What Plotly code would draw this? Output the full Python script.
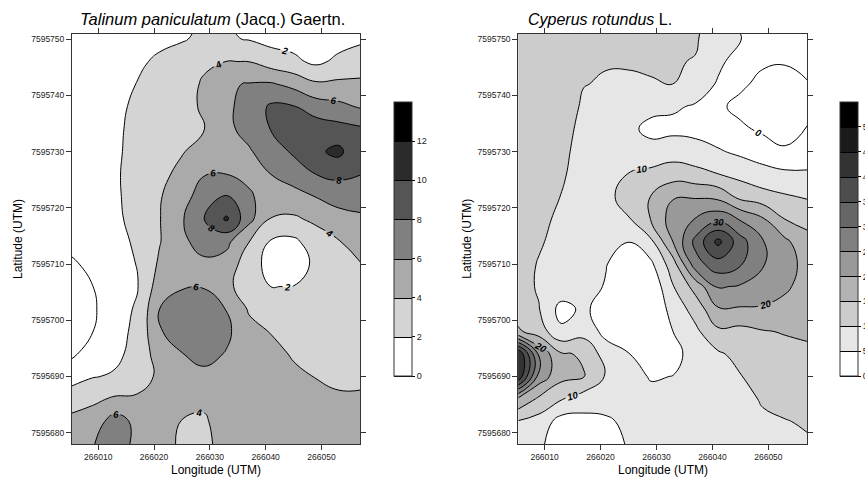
import plotly.graph_objects as go

W, H = 865, 479
FONT = "Arial, 'Liberation Sans', sans-serif"

# ---- grid of sampling nodes (UTM) ----
x_nodes = [266005, 266009, 266013, 266017, 266021, 266025, 266029,
           266033, 266037, 266041, 266045, 266049, 266053, 266057]
y_nodes = [7595754, 7595750, 7595746, 7595742, 7595738, 7595734, 7595730,
           7595726, 7595722, 7595718, 7595714, 7595710, 7595706, 7595702,
           7595698, 7595694, 7595690, 7595686, 7595682, 7595678]

# Talinum paniculatum density, rows follow y_nodes (north -> south)
talinum_z = [
    [0.5, 0.6, 0.8, 1.0, 1.3, 1.6, 2.0, 1.9, 1.5, 1.2, 1.0, 0.6, 0.9, 1.3],
    [0.6, 0.8, 1.0, 1.3, 1.6, 1.9, 2.25, 2.2, 1.9, 1.4, 1.3, 1.0, 1.3, 1.7],
    [0.7, 0.9, 1.2, 1.7, 2.3, 2.6, 3.6, 4.02, 3.98, 3.0, 2.4, 1.6, 2.4, 2.9],
    [0.75, 1.0, 1.4, 2.05, 2.8, 3.0, 4.3, 5.8, 6.1, 6.2, 5.4, 4.3, 4.4, 4.4],
    [0.75, 1.0, 1.5, 2.4, 3.1, 3.3, 4.3, 5.6, 6.8, 8.3, 8.1, 7.0, 6.5, 5.8],
    [0.7, 1.0, 1.6, 2.6, 3.2, 3.6, 3.95, 5.6, 6.6, 8.1, 8.8, 9.1, 8.7, 8.3],
    [0.65, 0.95, 1.7, 2.6, 3.3, 3.9, 4.6, 5.6, 5.8, 7.0, 8.3, 9.6, 10.5, 8.4],
    [0.6, 0.9, 1.8, 2.6, 3.6, 4.4, 5.9, 5.98, 5.5, 6.02, 6.9, 8.02, 8.5, 8.04],
    [0.5, 0.85, 1.8, 2.5, 3.85, 5.2, 7.0, 8.1, 6.3, 5.0, 5.3, 6.05, 6.7, 7.0],
    [0.45, 0.8, 1.75, 2.4, 3.92, 5.8, 8.0, 10.3, 6.6, 3.9, 3.7, 4.4, 5.3, 5.6],
    [0.33, 0.6, 1.6, 2.2, 3.9, 5.6, 6.8, 6.5, 4.05, 1.8, 1.6, 3.0, 3.9, 4.6],
    [-0.2, 0.3, 1.4, 2.05, 4.3, 5.5, 5.6, 5.2, 2.9, 1.3, 1.0, 2.4, 3.1, 3.95],
    [-0.45, -0.02, 1.3, 1.9, 5.0, 5.9, 5.9, 4.6, 2.7, 1.98, 2.03, 2.5, 2.9, 3.5],
    [-0.6, -0.3, 1.3, 2.2, 6.0, 6.6, 6.9, 5.94, 3.8, 3.0, 2.7, 2.8, 2.9, 3.2],
    [-0.55, -0.03, 1.4, 2.4, 5.9, 6.6, 7.0, 6.4, 4.6, 3.9, 3.2, 3.1, 3.0, 3.2],
    [-0.33, 0.7, 1.6, 2.6, 5.0, 5.95, 6.6, 5.87, 5.0, 4.6, 3.8, 3.5, 3.3, 3.3],
    [1.0, 1.9, 2.2, 3.0, 4.4, 5.0, 5.5, 5.0, 5.1, 5.0, 4.4, 3.95, 3.7, 3.7],
    [3.22, 3.6, 4.26, 4.3, 4.6, 4.4, 4.25, 4.7, 5.0, 5.0, 4.7, 4.4, 4.2, 4.2],
    [4.42, 5.0, 6.84, 5.5, 5.0, 3.95, 3.85, 4.6, 4.9, 5.0, 4.8, 4.6, 4.5, 4.4],
    [5.0, 5.9, 7.0, 5.5, 5.0, 3.6, 3.7, 4.5, 4.8, 5.0, 4.8, 4.6, 4.6, 4.5],
]

# Cyperus rotundus density, rows follow y_nodes (north -> south)
cyperus_z = [
    [13.5, 12.5, 12.0, 11.2, 10.8, 10.8, 10.6, 10.6, 10.6, 8.5, 4.5, 2.5, 3.5, 3.5],
    [13.5, 12.5, 12.0, 11.0, 10.5, 10.6, 10.5, 10.5, 10.4, 7.5, 5.2, 2.0, 2.5, 2.8],
    [13.5, 12.5, 12.0, 10.8, 10.2, 10.3, 10.4, 10.3, 9.8, 6.0, 3.0, 0.8, 0.5, 1.5],
    [13.5, 12.5, 12.0, 10.1, 9.7, 9.5, 9.8, 10.05, 7.8, 4.5, 1.0, -1.5, -2.5, -0.3],
    [13.5, 12.5, 11.8, 9.5, 9.0, 7.5, 6.5, 5.6, 4.5, 1.0, -1.5, -2.5, -3.0, -1.5],
    [13.5, 12.5, 11.3, 9.0, 8.5, 6.3, 3.5, 3.8, 3.5, 2.5, 1.0, -1.0, -2.0, 0.3],
    [13.5, 12.2, 10.9, 8.6, 8.3, 7.5, 7.0, 7.8, 7.0, 5.5, 4.0, 3.0, 0.7, 2.8],
    [13.5, 12.0, 10.5, 8.3, 8.5, 10.1, 11.2, 12.5, 11.5, 10.05, 8.5, 6.5, 6.0, 5.5],
    [13.5, 11.5, 9.9, 8.0, 9.0, 11.5, 15.1, 19.6, 19.5, 18.5, 13.5, 12.0, 10.5, 9.5],
    [13.0, 11.0, 9.2, 7.7, 8.0, 9.7, 15.2, 22.5, 25.2, 28.5, 24.5, 20.5, 14.9, 13.5],
    [12.5, 10.5, 8.5, 7.5, 6.5, 5.1, 9.0, 20.3, 31.5, 41.5, 32.0, 25.3, 21.0, 16.5],
    [12.0, 9.7, 8.0, 7.3, 5.2, 2.0, 4.0, 13.0, 28.0, 33.0, 30.5, 25.3, 23.0, 17.5],
    [12.0, 9.5, 8.5, 7.0, 4.6, 0.8, 1.0, 9.8, 17.0, 25.5, 24.5, 22.5, 21.0, 17.5],
    [13.0, 10.2, 3.2, 6.0, 2.5, 0.8, 0.5, 7.0, 12.0, 19.5, 19.5, 19.5, 18.0, 17.0],
    [16.0, 12.5, 6.0, 8.0, 3.5, 2.0, 0.6, 5.05, 9.0, 14.0, 13.5, 14.7, 15.3, 15.8],
    [46.5, 24.0, 15.5, 14.5, 7.5, 5.2, 1.5, 3.5, 7.0, 9.3, 11.5, 13.0, 13.5, 14.0],
    [45.5, 23.0, 16.5, 15.2, 9.5, 7.0, 4.6, 5.1, 6.5, 7.5, 9.8, 11.8, 12.5, 12.8],
    [20.0, 14.0, 10.3, 7.5, 7.0, 6.8, 6.5, 6.6, 6.5, 7.0, 8.0, 10.6, 11.5, 11.8],
    [9.8, 8.0, 3.0, 3.5, 4.3, 6.0, 6.5, 7.0, 6.5, 7.0, 7.5, 9.0, 9.8, 10.5],
    [8.0, 6.0, 2.0, 2.0, 2.5, 5.5, 6.5, 7.0, 6.5, 7.0, 7.5, 8.5, 9.0, 9.5],
]

x_ticks = [266010, 266020, 266030, 266040, 266050]
y_ticks = [7595680, 7595690, 7595700, 7595710, 7595720, 7595730, 7595740, 7595750]
talinum_cbar_ticks = [0, 2, 4, 6, 8, 10, 12]
cyperus_cbar_ticks = [0, 5, 10, 15, 20, 25, 30, 35, 40, 45, 50]

talinum_greys = ['#ffffff', '#d4d4d4', '#aaaaaa', '#808080', '#555555', '#2b2b2b', '#000000']
cyperus_greys = ['#ffffff', '#e6e6e6', '#cccccc', '#b3b3b3', '#999999', '#808080',
                 '#666666', '#4d4d4d', '#333333', '#1a1a1a', '#000000']

# plotly wants ascending coordinates
ys = y_nodes[::-1]
tz = talinum_z[::-1]
cz = cyperus_z[::-1]

SMOOTH = 1.3


def stepped(colors):
    n = len(colors)
    cs = []
    for i, c in enumerate(colors):
        cs.append([i / n, c])
        cs.append([(i + 1) / n, c])
    return cs


def panel(z, xa, ya, zmax, size, greys, label_step, cbar_x, cbar_ticks, first_line):
    traces = []
    cs = stepped(greys)
    # filled bands (no lines)
    traces.append(go.Contour(
        x=x_nodes, y=ys, z=z, xaxis=xa, yaxis=ya,
        zmin=0, zmax=zmax, autocontour=False, colorscale=cs,
        contours=dict(start=0, end=zmax, size=size, coloring='fill', showlines=False),
        line=dict(smoothing=SMOOTH, width=0), showscale=False, hoverinfo='skip'))
    # unlabeled lines
    traces.append(go.Contour(
        x=x_nodes, y=ys, z=z, xaxis=xa, yaxis=ya, autocontour=False,
        contours=dict(start=first_line[0], end=first_line[1], size=first_line[2],
                      coloring='none', showlabels=False),
        line=dict(color='black', width=1, smoothing=SMOOTH), showscale=False, hoverinfo='skip'))
    # labeled lines
    traces.append(go.Contour(
        x=x_nodes, y=ys, z=z, xaxis=xa, yaxis=ya, autocontour=False,
        contours=dict(start=label_step[0], end=label_step[1], size=label_step[2],
                      coloring='none', showlabels=True,
                      labelfont=dict(family=FONT, size=9.5, color='black',
                                     weight='bold', style='italic')),
        line=dict(color='black', width=1, smoothing=SMOOTH), showscale=False, hoverinfo='skip'))
    # colour bar carrier (placed far outside the visible range)
    traces.append(go.Contour(
        x=[0, 1], y=[0, 1], z=[[0, zmax], [0, zmax]], xaxis=xa, yaxis=ya,
        zmin=0, zmax=zmax, autocontour=False, colorscale=cs,
        contours=dict(start=0, end=zmax, size=size, coloring='fill', showlines=True),
        line=dict(color='black', width=1), hoverinfo='skip', showscale=True,
        colorbar=dict(x=cbar_x / W, xanchor='left', xpad=0,
                      y=1 - 239 / H, yanchor='middle', ypad=0,
                      len=274, lenmode='pixels', thickness=18, thicknessmode='pixels',
                      outlinewidth=1, outlinecolor='#333',
                      tickvals=cbar_ticks, ticks='outside', ticklen=3, tickcolor='black',
                      tickfont=dict(family=FONT, size=9, color='#222'))))
    return traces


fig = go.Figure()
for t in panel(tz, 'x', 'y', 14, 2, talinum_greys, (2, 12, 2), 394, talinum_cbar_ticks, (0, 0.5, 2)):
    fig.add_trace(t)
for t in panel(cz, 'x2', 'y2', 55, 5, cyperus_greys, (0, 50, 10), 840, cyperus_cbar_ticks, (5, 55, 10)):
    fig.add_trace(t)

axis_common = dict(ticks='outside', ticklen=5, tickcolor='#333', showline=True, linecolor='#333',
                   linewidth=1, mirror='ticks', showgrid=False, zeroline=False, tickformat='d',
                   tickfont=dict(family=FONT, size=8.5, color='#222'))

fig.update_layout(
    width=W, height=H, margin=dict(l=0, r=0, t=0, b=0, autoexpand=False),
    paper_bgcolor='white', plot_bgcolor='white', showlegend=False,
    font=dict(family=FONT, color='black'),
    xaxis=dict(domain=[72 / W, 360 / W], range=[266005.3, 266056.9], anchor='y',
               tickvals=x_ticks, **axis_common),
    yaxis=dict(domain=[1 - 444 / H, 1 - 34 / H], range=[7595678, 7595750.9], anchor='x',
               tickvals=y_ticks, **axis_common),
    xaxis2=dict(domain=[518.3 / W, 807 / W], range=[266005.3, 266056.9], anchor='y2',
                tickvals=x_ticks, **axis_common),
    yaxis2=dict(domain=[1 - 444 / H, 1 - 34 / H], range=[7595678, 7595750.9], anchor='x2',
                tickvals=y_ticks, **axis_common),
)

ann = [
    dict(text='<i>Talinum paniculatum</i> (Jacq.) Gaertn.', x=212 / W, y=1 - 19 / H,
         xanchor='center', yanchor='middle', font=dict(size=16.5)),
    dict(text='<i>Cyperus rotundus</i> L.', x=526 / W, y=1 - 19 / H,
         xanchor='left', yanchor='middle', font=dict(size=16)),
    dict(text='Longitude (UTM)', x=216 / W, y=1 - 470 / H, xanchor='center', yanchor='middle',
         font=dict(size=12)),
    dict(text='Longitude (UTM)', x=662.7 / W, y=1 - 470 / H, xanchor='center', yanchor='middle',
         font=dict(size=12)),
    dict(text='Latitude (UTM)', x=18 / W, y=1 - 239 / H, xanchor='center', yanchor='middle',
         textangle=-90, font=dict(size=12)),
    dict(text='Latitude (UTM)', x=466.7 / W, y=1 - 239 / H, xanchor='center', yanchor='middle',
         textangle=-90, font=dict(size=12)),
]
for a in ann:
    a.update(xref='paper', yref='paper', showarrow=False)
    a['font'].update(family=FONT, color='black')
fig.update_layout(annotations=ann)

fig.write_html("out.html", config={'displayModeBar': False},
               post_script="document.body.style.margin='0';document.body.style.padding='0';")
